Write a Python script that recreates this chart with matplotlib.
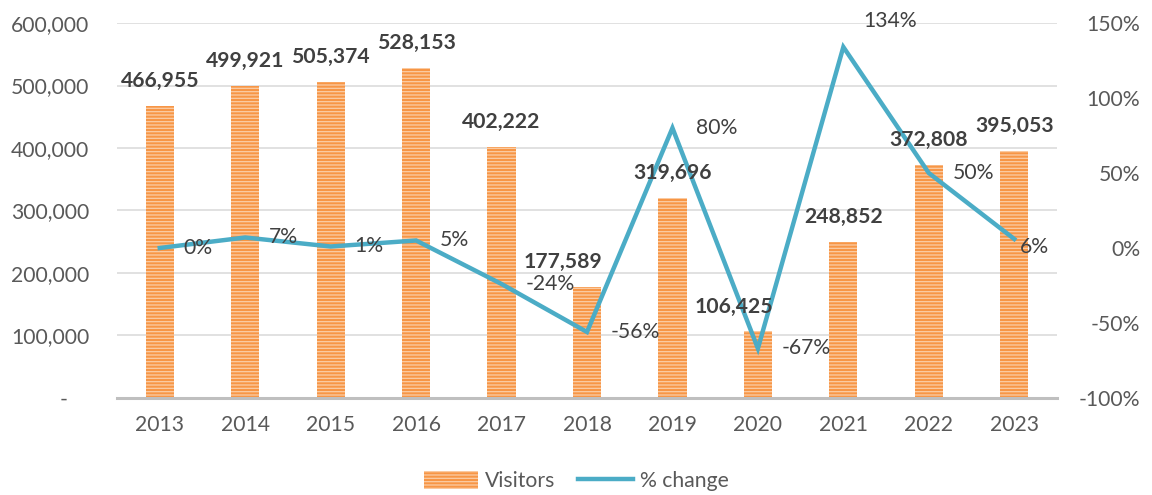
import matplotlib
matplotlib.use("Agg")
import matplotlib.pyplot as plt
from matplotlib.ticker import FuncFormatter

plt.rcParams['font.family'] = ['Lato', 'DejaVu Sans']
plt.rcParams['hatch.linewidth'] = 0.9

years = ["2013", "2014", "2015", "2016", "2017", "2018", "2019", "2020", "2021", "2022", "2023"]
visitors = [466955, 499921, 505374, 528153, 402222, 177589, 319696, 106425, 248852, 372808, 395053]
pct_change = [0.00, 0.07, 0.01, 0.05, -0.24, -0.56, 0.80, -0.67, 1.34, 0.50, 0.06]

left_ticks = [0, 100000, 200000, 300000, 400000, 500000, 600000]
right_ticks = [-1.0, -0.5, 0.0, 0.5, 1.0, 1.5]

# label offsets in points (style only)
bar_label_dx = {5: -17, 7: -17}
pct_label_off = {8: (14, 19), 10: (4, -6)}

TXT = '#404040'
TICK = '#595959'
ORANGE = '#F79646'
STRIPE = '#FBCDA6'
BLUE = '#4BACC6'
FS = 15.2

fig = plt.figure(figsize=(11.52, 4.95), dpi=100)
ax = fig.add_axes([0.1016, 0.196, 0.8159, 0.7575])
ax2 = ax.twinx()

x = list(range(len(years)))
bars = ax.bar(x, visitors, width=0.33, color=ORANGE, edgecolor=STRIPE,
              linewidth=0, hatch='-----', label='Visitors', zorder=2)

ax.set_xlim(-0.5, len(years) - 0.5)
ax.set_ylim(0, 600000)
ax.set_yticks(left_ticks)
ax.yaxis.set_major_formatter(FuncFormatter(lambda v, p: '-    ' if v == 0 else f'{int(v):,}'))
ax.set_xticks(x)
ax.set_xticklabels(years)
ax.grid(axis='y', color='#D9D9D9', linewidth=1.1, zorder=0)
ax.set_axisbelow(True)
for s in ['top', 'right', 'left']:
    ax.spines[s].set_visible(False)
ax.spines['bottom'].set_color('#BFBFBF')
ax.spines['bottom'].set_linewidth(2.2)
ax.tick_params(axis='y', length=0, pad=20, labelsize=FS, labelcolor=TICK)
ax.tick_params(axis='x', length=0, pad=12, labelsize=FS, labelcolor=TICK)

line, = ax2.plot(x, pct_change, color=BLUE, linewidth=3.2, label='% change',
                 solid_joinstyle='miter', zorder=3)
ax2.set_ylim(-1.0, 1.5)
ax2.set_yticks(right_ticks)
ax2.yaxis.set_major_formatter(FuncFormatter(lambda v, p: f'{v*100:.0f}%'))
for s in ['top', 'right', 'left', 'bottom']:
    ax2.spines[s].set_visible(False)
ax2.tick_params(axis='y', length=0, pad=60, labelsize=FS, labelcolor=TICK)
for lab in ax2.get_yticklabels():
    lab.set_horizontalalignment('right')

# bar value labels drawn on top of the line
for i, v in enumerate(visitors):
    ax2.annotate(f'{v:,}', (i, v), xycoords=ax.transData,
                 xytext=(bar_label_dx.get(i, 0), 18),
                 textcoords='offset points', ha='center', va='center',
                 fontsize=FS, fontweight='bold', color=TXT, zorder=5)

for i, v in enumerate(pct_change):
    dx, dy = pct_label_off.get(i, (17, 0))
    ax2.annotate(f'{v*100:.0f}%', (i, v), xytext=(dx, dy), textcoords='offset points',
                 ha='left', va='center', fontsize=FS, color=TXT, zorder=6)

fig.legend([bars, line], ['Visitors', '% change'], loc='center',
           bbox_to_anchor=(0.5, 0.028), ncol=2, frameon=False, fontsize=FS,
           labelcolor=TICK, handlelength=2.6, handleheight=0.9, columnspacing=1.1,
           handletextpad=0.3)

fig.savefig('out.png', dpi=100)
